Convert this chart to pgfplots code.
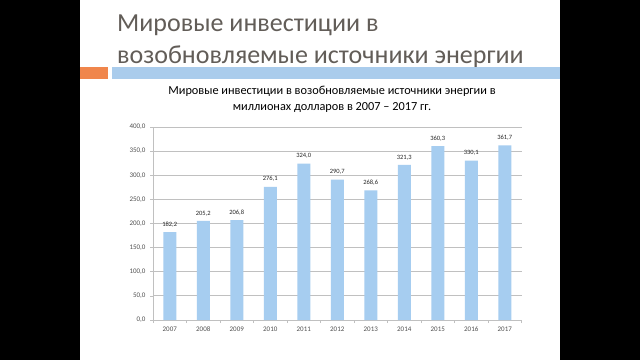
\documentclass[border=0pt]{standalone}
\usepackage{fontspec}
\setmainfont{Carlito}
\usepackage{pgfplots}
\pgfplotsset{compat=1.18}
\definecolor{titlegray}{RGB}{98,93,88}
\definecolor{barblue}{RGB}{166,205,240}
\definecolor{stripblue}{RGB}{170,204,236}
\definecolor{orangebox}{RGB}{240,134,76}
\definecolor{gridgray}{RGB}{192,192,192}
\definecolor{labgray}{RGB}{80,80,80}
\begin{document}
\begin{tikzpicture}[x=1pt,y=1pt]
\useasboundingbox (0,0) rectangle (640,360);
\fill[black] (0,0) rectangle (640,360);
\fill[white] (80,0) rectangle (560,360);
\node[anchor=base west, text=titlegray, font=\fontsize{26}{30}\selectfont, inner sep=0] at (117,329) {Мировые инвестиции в};
\node[anchor=base west, text=titlegray, font=\fontsize{26}{30}\selectfont, inner sep=0] at (117,297) {возобновляемые источники энергии};
\fill[orangebox] (80,281) rectangle (108,293);
\fill[stripblue] (112,281) rectangle (560,293);
\node[anchor=base, font=\fontsize{12.3}{14}\selectfont, inner sep=0] at (332,266) {Мировые инвестиции в возобновляемые источники энергии в};
\node[anchor=base, font=\fontsize{12.3}{14}\selectfont, inner sep=0] at (332,250) {миллионах долларов в 2007 – 2017 гг.};
\begin{axis}[
  at={(153pt,40pt)}, anchor=south west, scale only axis,
  width=368.5pt, height=193pt,
  xmin=-0.5, xmax=10.5, ymin=0, ymax=400,
  ytick={0,50,...,400},
  xtick={0,...,10},
  xticklabels={2007,2008,2009,2010,2011,2012,2013,2014,2015,2016,2017},
  minor xtick={-0.5,0.5,...,10.5},
  major x tick style={draw=none},
  minor tick length=3pt, major tick length=3pt,
  tick align=outside,
  tick style={gridgray, line width=0.6pt},
  ymajorgrids, grid style={gridgray, line width=1pt},
  axis x line*=bottom, axis y line*=left,
  axis line style={gridgray, line width=0.8pt, -},
  tick label style={font=\fontsize{7}{8}\selectfont, text=labgray},
  yticklabel style={xshift=-1pt},
  /pgf/number format/.cd, fixed, fixed zerofill, precision=1, use comma, 1000 sep={}, assume math mode=true,
  /pgfplots/.cd,
  ybar, bar width=13pt,
  nodes near coords,
  every node near coord/.append style={font=\fontsize{6.5}{7}\selectfont, text=black!85, yshift=1.5pt},
]
\addplot[fill=barblue, draw=none] coordinates {
(0,182.2) (1,205.2) (2,206.8) (3,276.1) (4,324.0) (5,290.7)
(6,268.6) (7,321.3) (8,360.3) (9,330.1) (10,361.7)};
\end{axis}
\end{tikzpicture}
\end{document}
